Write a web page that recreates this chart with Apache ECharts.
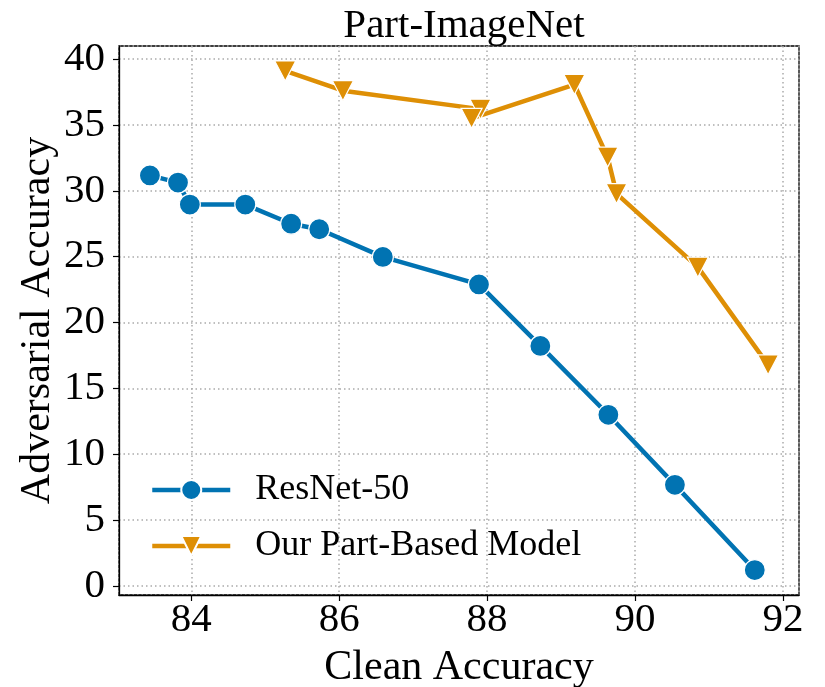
<!DOCTYPE html>
<html>
<head>
<meta charset="utf-8">
<script src="https://cdn.jsdelivr.net/npm/echarts@6/dist/echarts.min.js"></script>
<style>html,body{margin:0;padding:0;background:#fff;}#c{width:825px;height:687px;}</style>
</head>
<body>
<div id="c"></div>
<script>
const title = 'Part-ImageNet';
const xName = 'Clean Accuracy';
const yName = 'Adversarial Accuracy';
const resnetName = 'ResNet-50';
const resnetX = [83.44, 83.82, 83.98, 84.73, 85.35, 85.73, 86.59, 87.89, 88.72, 89.64, 90.54, 91.62];
const resnetY = [31.17, 30.62, 28.95, 28.95, 27.5, 27.08, 24.98, 22.89, 18.22, 12.99, 7.67, 1.2];
const partName = 'Our Part-Based Model';
const partX = [85.27, 86.05, 87.91, 87.79, 89.18, 89.63, 89.75, 90.85, 91.80];
const partY = [39.1, 37.6, 36.2, 35.5, 38.07, 32.56, 29.79, 24.2, 16.78];

const FONT = '"Liberation Serif", "DejaVu Serif", serif';
const pairs = (xs, ys) => xs.map((x, i) => [x, ys[i]]);

const chart = echarts.init(document.getElementById('c'));
chart.setOption({
  animation: false,
  backgroundColor: '#ffffff',
  title: {
    text: title, left: 459, textAlign: 'center', top: 1,
    textStyle: { fontFamily: FONT, fontSize: 41, fontWeight: 'normal', color: '#000' }
  },
  grid: { left: 119, right: 26, top: 46, bottom: 92, show: true, borderColor: '#000', borderWidth: 1.3, backgroundColor: 'transparent', containLabel: false, outerBoundsMode: 'none' },
  legend: {
    left: 150, top: 472, orient: 'vertical', padding: 0,
    itemWidth: 78, itemHeight: 25, itemGap: 20,
    lineStyle: { width: 4.5 },
    textStyle: { fontFamily: FONT, fontSize: 36, color: '#000', padding: [0, 0, 0, 20] },
    data: [resnetName, partName]
  },
  xAxis: {
    type: 'value', min: 83.022, max: 92.218, minInterval: 2, maxInterval: 2,
    name: xName, nameLocation: 'middle', nameGap: 52, nameMoveOverlap: false,
    nameTextStyle: { fontFamily: FONT, fontSize: 42, color: '#000' },
    axisLine: { show: true, onZero: false, lineStyle: { color: '#000', width: 1.3 } },
    axisTick: { show: true, inside: false, length: 6, lineStyle: { color: '#000', width: 1.2 } },
    axisLabel: { showMinLabel: false, showMaxLabel: false, margin: 5, fontFamily: FONT, fontSize: 41, color: '#000' },
    splitLine: { show: true, lineStyle: { color: '#aaaaaa', width: 1.5, type: [1.5, 3] } }
  },
  yAxis: {
    type: 'value', min: -0.695, max: 40.995, minInterval: 5, maxInterval: 5,
    name: yName, nameLocation: 'middle', nameGap: 60, nameMoveOverlap: false,
    nameTextStyle: { fontFamily: FONT, fontSize: 42, color: '#000' },
    axisLine: { show: true, onZero: false, lineStyle: { color: '#000', width: 1.3 } },
    axisTick: { show: true, inside: false, length: 6, lineStyle: { color: '#000', width: 1.2 } },
    axisLabel: { showMinLabel: false, showMaxLabel: false, margin: 14, fontFamily: FONT, fontSize: 41, color: '#000' },
    splitLine: { show: true, lineStyle: { color: '#aaaaaa', width: 1.5, type: [1.5, 3] } }
  },
  series: [
    {
      name: resnetName, type: 'line', data: pairs(resnetX, resnetY),
      symbol: 'circle', symbolSize: 21,
      lineStyle: { color: '#0173b2', width: 4.5 },
      itemStyle: { color: '#0173b2', borderColor: '#ffffff', borderWidth: 1.2 },
      z: 3
    },
    {
      name: partName, type: 'line', data: pairs(partX, partY),
      symbol: 'triangle', symbolSize: [21, 20], symbolRotate: 180,
      lineStyle: { color: '#de8f05', width: 4.5 },
      itemStyle: { color: '#de8f05', borderColor: '#ffffff', borderWidth: 1.2 },
      z: 3
    }
  ]
});
</script>
</body>
</html>
